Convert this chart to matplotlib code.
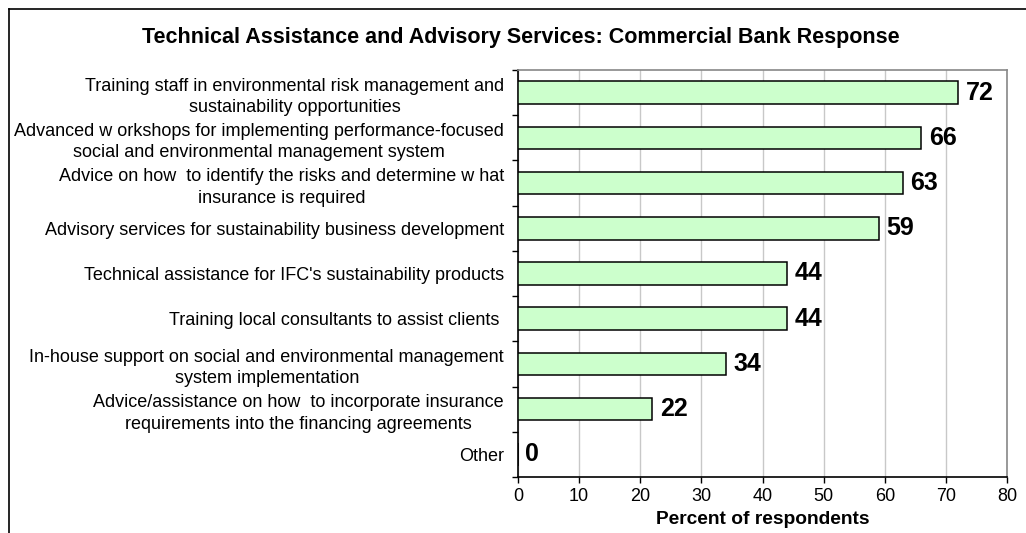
import numpy as np
import matplotlib
matplotlib.use("Agg")
import matplotlib.pyplot as plt
from matplotlib.lines import Line2D

plt.rcParams['font.family'] = ['Liberation Sans', 'DejaVu Sans']

categories = [
    "Training staff in environmental risk management and\nsustainability opportunities",
    "Advanced w orkshops for implementing performance-focused\nsocial and environmental management system",
    "Advice on how  to identify the risks and determine w hat\ninsurance is required",
    "Advisory services for sustainability business development",
    "Technical assistance for IFC's sustainability products",
    "Training local consultants to assist clients ",
    "In-house support on social and environmental management\nsystem implementation",
    "Advice/assistance on how  to incorporate insurance\nrequirements into the financing agreements",
    "Other",
]
values = [72, 66, 63, 59, 44, 44, 34, 22, 0]
x_ticks = [0, 10, 20, 30, 40, 50, 60, 70, 80]

fig = plt.figure(figsize=(10.26, 5.33), dpi=100)
ax = fig.add_axes([518 / 1026, 1 - 477 / 533, 489 / 1026, 407 / 533])

ypos = np.arange(len(categories))
ax.barh(ypos, values, height=0.5, color="#CCFFCC", edgecolor="black",
        linewidth=1.1, zorder=3)

for y, v in zip(ypos, values):
    ax.text(v + 1.2, y, str(v), ha="left", va="center",
            fontsize=18, fontweight="bold", zorder=4)

ax.set_xlim(0, 80)
ax.set_ylim(len(categories) - 0.5, -0.5)
ax.set_xticks(x_ticks)
ax.set_xticklabels([str(t) for t in x_ticks], fontsize=13)
ax.set_yticks(ypos)
ax.set_yticklabels(categories, fontsize=13, linespacing=1.35)
for lbl in ax.get_yticklabels():
    lbl.set_multialignment("center")
ax.set_yticks(np.arange(len(categories) + 1) - 0.5, minor=True)

ax.tick_params(axis="y", which="major", length=0, pad=10)
ax.tick_params(axis="y", which="minor", length=4, width=1, direction="out")
ax.tick_params(axis="x", length=4, width=1, direction="out", pad=4)

ax.xaxis.grid(True, color="#C8C8C8", linewidth=1, zorder=0)
ax.set_axisbelow(True)

for side in ["left", "bottom"]:
    ax.spines[side].set_color("black")
    ax.spines[side].set_linewidth(1.2)
for side in ["top", "right"]:
    ax.spines[side].set_color("#888888")
    ax.spines[side].set_linewidth(1.2)

ax.set_xlabel("Percent of respondents", fontsize=13.8, fontweight="bold")
ax.xaxis.set_label_coords(0.5, -(519 - 477) / 407, transform=ax.transAxes)
ax.xaxis.label.set_va("center")

fig.text(521 / 1026, 1 - 37 / 533,
         "Technical Assistance and Advisory Services: Commercial Bank Response",
         ha="center", va="center", fontsize=15.5, fontweight="bold")

# chart frame (only top and left edges fall inside the image)
fig.add_artist(Line2D([8.5 / 1026, 8.5 / 1026], [0, 1 - 9 / 533],
                      transform=fig.transFigure, color="black", linewidth=1.2))
fig.add_artist(Line2D([8.5 / 1026, 1], [1 - 9 / 533, 1 - 9 / 533],
                      transform=fig.transFigure, color="black", linewidth=1.2))

fig.savefig("out.png", dpi=100)
